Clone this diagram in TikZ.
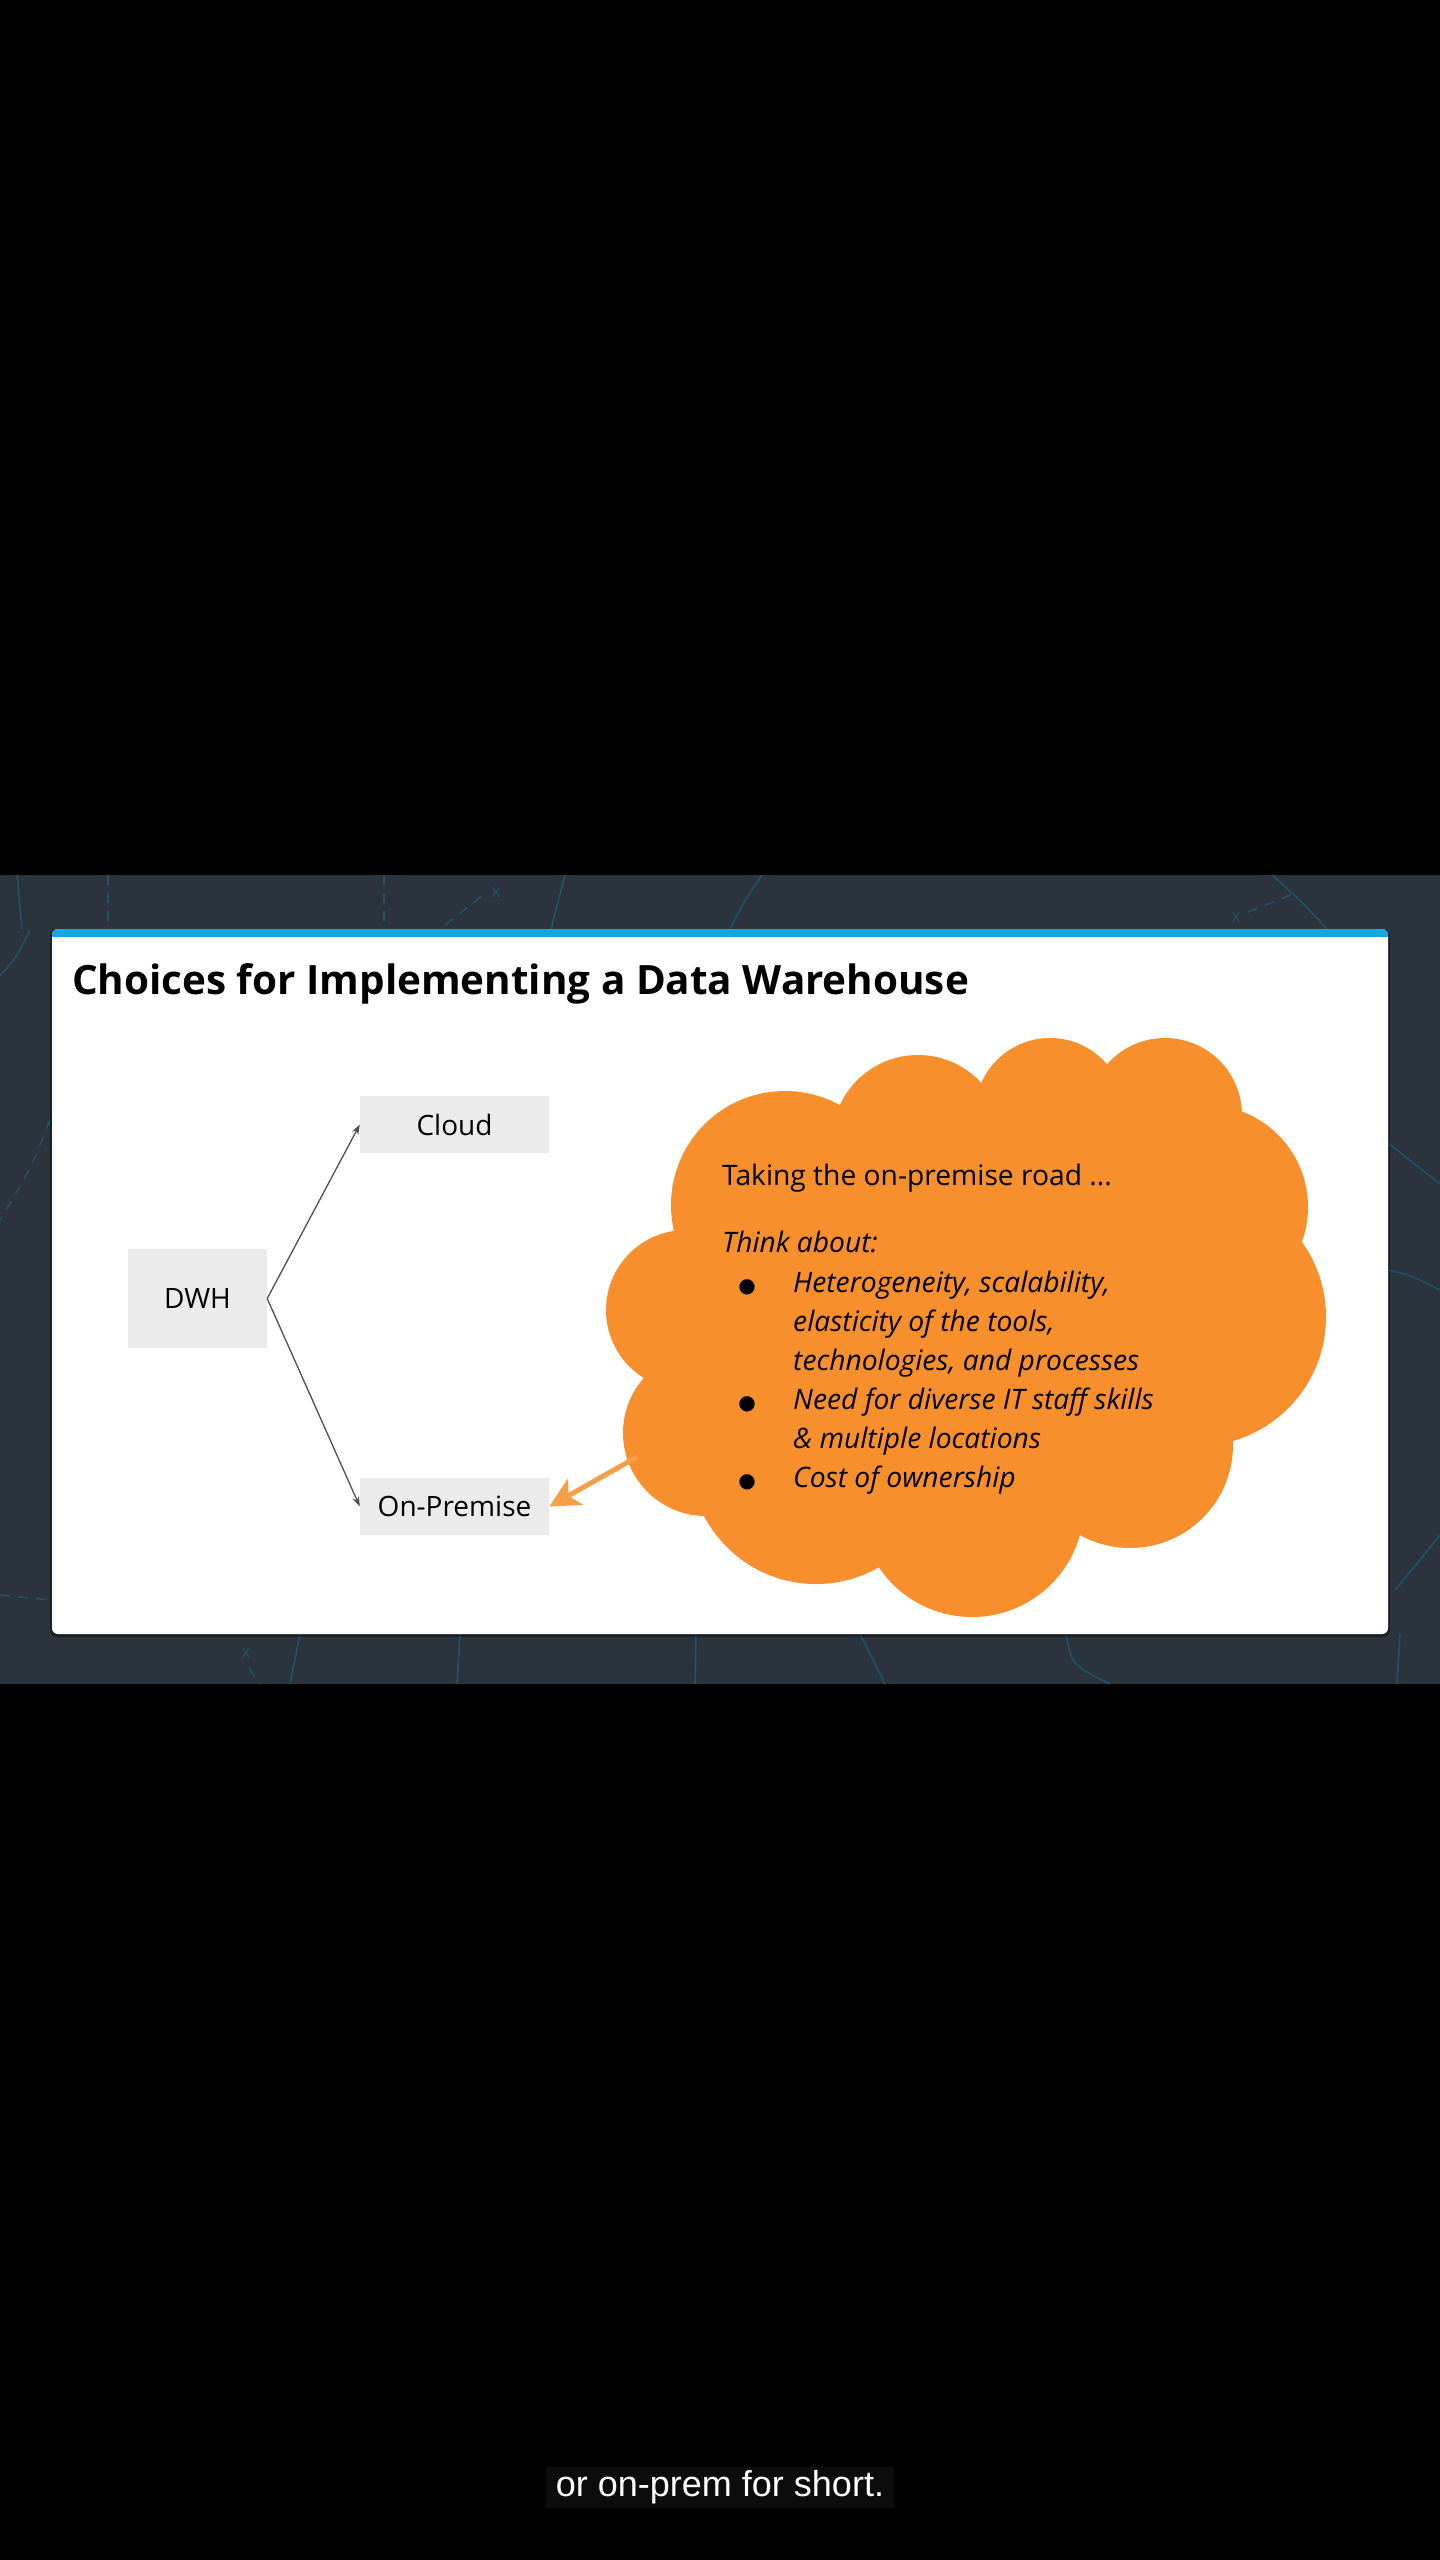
\documentclass[tikz,border=0pt]{standalone}
\usepackage{fontspec}
\setmainfont{Open Sans}
\newfontfamily\capfont{Liberation Sans}
\newfontfamily\symfont{DejaVu Sans}
\usetikzlibrary{arrows.meta}

\definecolor{slideBg}{RGB}{43,51,60}
\definecolor{lineTeal}{RGB}{30,84,104}
\definecolor{cardBlue}{RGB}{22,165,220}
\definecolor{boxGray}{RGB}{235,235,235}
\definecolor{arrowGray}{RGB}{80,80,80}
\definecolor{cloudOrange}{RGB}{247,143,44}
\definecolor{arrowOrange}{RGB}{245,160,72}
\definecolor{capBg}{RGB}{12,12,12}

\begin{document}
\begin{tikzpicture}
[x=1pt,y=-1pt,
  boxDecorate/.style={fill=boxGray,inner sep=0pt,minimum width=189pt,minimum height=57pt,
    font=\fontsize{28}{34}\selectfont},
  lineDecorate/.style={-{Stealth[length=10pt,width=7pt]},line width=1.3pt,draw=arrowGray},
  pointerDecorate/.style={-{Stealth[length=30pt,width=30pt,inset=8pt]},line width=5pt,draw=arrowOrange},
  puffDecorate/.style={fill=cloudOrange},
  textDecorate/.style={anchor=base west,inner sep=0pt,font=\fontsize{28.2}{34}\selectfont},
  bulletDecorate/.style={anchor=base,inner sep=0pt,font=\symfont\fontsize{20}{20}\selectfont},
  bgLine/.style={draw=lineTeal,line width=1.6pt},
  bgDash/.style={bgLine,dash pattern=on 10pt off 8pt}]
\useasboundingbox (0,0) rectangle (1440,2560);
\fill[black] (0,0) rectangle (1440,2560);

%% slide backdrop with faint map lines
\fill[slideBg] (0,875) rectangle (1440,1684);
\draw[bgLine] (17,875) -- (22,929);
\draw[bgDash] (108,875) -- (108,929);
\draw[bgDash] (384,875) -- (384,929);
\draw[bgLine] (565,875) -- (551,929);
\draw[bgLine] (762,875) .. controls (745,900) .. (730,929);
\draw[bgLine] (1272,875) .. controls (1300,900) .. (1327,929);
\draw[bgDash] (445,925) -- (482,896);
\node[text=lineTeal,font=\fontsize{18}{18}\selectfont] (xa) at (496,893) {x};
\draw[bgDash] (1248,912) -- (1295,893);
\node[text=lineTeal,font=\fontsize{18}{18}\selectfont] (xb) at (1236,918) {x};
\draw[bgLine] (0,975) .. controls (15,960) .. (30,930);
\draw[bgDash] (50,1120) .. controls (30,1170) .. (0,1220);
\draw[bgDash] (0,1595) -- (52,1600);
\draw[bgLine] (1388,1143) -- (1440,1184);
\draw[bgLine] (1388,1270) .. controls (1410,1275) .. (1440,1290);
\draw[bgLine] (1395,1590) .. controls (1420,1560) .. (1440,1535);
\node[text=lineTeal,font=\fontsize{18}{18}\selectfont] (xc) at (246,1654) {x};
\draw[bgDash] (249,1668) -- (260,1684);
\draw[bgLine] (300,1634) -- (290,1684);
\draw[bgLine] (460,1634) -- (457,1684);
\draw[bgLine] (696,1634) -- (695,1684);
\draw[bgLine] (860,1634) -- (885,1684);
\draw[bgLine] (1066,1634) .. controls (1072,1665) .. (1110,1684);
\draw[bgLine] (1400,1634) -- (1397,1684);

%% white card with blue top bar
\fill[black,opacity=.35,rounded corners=7pt] (50,929) rectangle (1390,1637);
\fill[white,rounded corners=6pt] (52,929) rectangle (1388,1634);
\begin{scope}
  \clip[rounded corners=6pt] (52,929) rectangle (1388,1634);
  \fill[cardBlue] (52,929) rectangle (1388,937);
\end{scope}

\node[anchor=base west,inner sep=0pt,font=\fontsize{40.4}{48}\selectfont\bfseries] (title)
  at (72,994) {Choices for Implementing a Data Warehouse};

%% boxes
\node[boxDecorate,minimum width=139pt,minimum height=99pt] (dwh) at (197.5,1298.5) {DWH};
\foreach \nodename/\x/\y/\label in {cloud/454.5/1124.5/Cloud, onprem/454.5/1506.5/On-Premise}
{
  \node (\nodename) at (\x,\y) [boxDecorate] {\label};
}
%% edges
\path
\foreach \endnode in {cloud, onprem}
{
  (dwh.east) edge[lineDecorate] (\endnode.west)
};

%% thought cloud
\fill[puffDecorate] (785,1205) -- (918,1141) -- (1050,1113) -- (1165,1115) -- (1206,1207)
  -- (1197,1317) -- (1130,1445) -- (972,1505) -- (816,1458) -- (706,1433) -- (686,1310) -- cycle;
\foreach \cx/\cy/\r in {785/1205/114, 918/1141/86, 1050/1113/75, 1165/1115/77,
  1206/1207/102, 1197/1317/129, 1130/1445/103, 972/1505/112, 816/1458/126,
  706/1433/83, 686/1310/80}
{
  \fill[puffDecorate] (\cx,\cy) circle[radius=\r];
}
\coordinate (puffTail) at (637,1457);
\draw[pointerDecorate] (puffTail) -- (onprem.east);

%% cloud text
\node[textDecorate] (road) at (722,1185) {Taking the on-premise road ...};
\node[textDecorate,font=\fontsize{28.2}{34}\selectfont\itshape] (think) at (722,1252) {Think about:};
\foreach \name/\y/\txt in {
  lineA/1292/{Heterogeneity, scalability,}, lineB/1331/{elasticity of the tools,},
  lineC/1370/{technologies, and processes}, lineD/1409/{Need for diverse IT staff skills},
  lineE/1448/{\& multiple locations}, lineF/1487/{Cost of ownership}}
{
  \node[textDecorate,font=\fontsize{28.2}{34}\selectfont\itshape] (\name) at (793,\y) {\txt};
}
\foreach \name/\y in {dotA/1292, dotB/1409, dotC/1487}
{
  \node[bulletDecorate] (\name) at (747,\y) {●};
}

%% subtitle
\node[fill=capBg,inner sep=0pt,minimum width=348pt,minimum height=41pt,text=white,
  font=\capfont\fontsize{36}{42}\selectfont] (caption) at (720,2487.5) {or on-prem for short.};
\end{tikzpicture}
\end{document}
